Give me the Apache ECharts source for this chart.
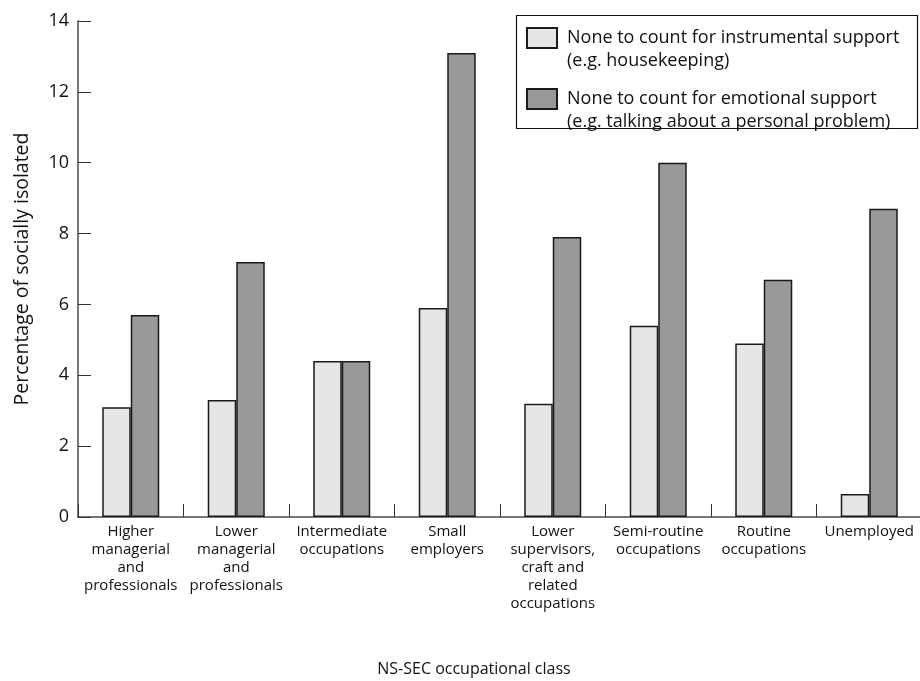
<!DOCTYPE html>
<html>
<head>
<meta charset="utf-8">
<script src="https://cdn.jsdelivr.net/npm/echarts@6/dist/echarts.min.js"></script>
<style>
html,body{margin:0;padding:0;background:#fff;}
#chart{width:920px;height:681px;}
</style>
</head>
<body>
<div id="chart"></div>
<script>
var categories = [
  'Higher\nmanagerial\nand\nprofessionals',
  'Lower\nmanagerial\nand\nprofessionals',
  'Intermediate\noccupations',
  'Small\nemployers',
  'Lower\nsupervisors,\ncraft and\nrelated\noccupations',
  'Semi-routine\noccupations',
  'Routine\noccupations',
  'Unemployed'
];
var seriesNames = [
  'None to count for instrumental support\n(e.g. housekeeping)',
  'None to count for emotional support\n(e.g. talking about a personal problem)'
];
var instrumental = [3.1, 3.3, 4.4, 5.9, 3.2, 5.4, 4.9, 0.65];
var emotional = [5.7, 7.2, 4.4, 13.1, 7.9, 10.0, 6.7, 8.7];
var yTicks = {min: 0, max: 14, interval: 2};
var yAxisTitle = 'Percentage of socially isolated';
var xAxisTitle = 'NS-SEC occupational class';

var FONT = 'Open Sans';
var chart = echarts.init(document.getElementById('chart'), null, {renderer: 'canvas'});
chart.setOption({
  animation: false,
  backgroundColor: '#fff',
  textStyle: {fontFamily: FONT},
  grid: {left: 78, top: 21, width: 844, height: 496, containLabel: false, outerBoundsMode: 'none'},
  legend: {
    orient: 'vertical',
    left: 526,
    top: 26.5,
    padding: 0,
    itemGap: 15,
    itemWidth: 30,
    itemHeight: 43,
    icon: 'path://M0,0 L30,0 L30,20 L0,20 Z M0,43 L0,43',
    data: seriesNames,
    textStyle: {fontFamily: FONT, fontSize: 18, color: '#111', lineHeight: 23, padding: [0, 0, 0, 5]}
  },
  graphic: [{
    type: 'rect',
    shape: {x: 516.5, y: 15.5, width: 401, height: 113},
    style: {fill: 'none', stroke: '#111', lineWidth: 1.2},
    silent: true,
    z: -1
  }],
  xAxis: {
    type: 'category',
    data: categories,
    name: xAxisTitle,
    nameLocation: 'middle',
    nameGap: 144,
    nameTextStyle: {fontFamily: FONT, fontSize: 16, color: '#111', padding: [0, 52, 0, 0]},
    axisLine: {show: true, lineStyle: {color: '#777', width: 2}},
    axisTick: {show: true, inside: true, length: 13, lineStyle: {color: '#333', width: 1}},
    axisLabel: {fontFamily: FONT, fontSize: 15, color: '#111', margin: 6, lineHeight: 18, interval: 0},
    splitLine: {show: false}
  },
  yAxis: {
    type: 'value',
    min: yTicks.min,
    max: yTicks.max,
    interval: yTicks.interval,
    name: yAxisTitle,
    nameLocation: 'middle',
    nameGap: 46,
    nameRotate: 90,
    nameTextStyle: {fontFamily: FONT, fontSize: 19.5, color: '#111'},
    axisLine: {show: true, lineStyle: {color: '#777', width: 2}},
    axisTick: {show: true, inside: true, length: 13, lineStyle: {color: '#333', width: 1}},
    axisLabel: {fontFamily: FONT, fontSize: 18, color: '#111', margin: 9},
    splitLine: {show: false}
  },
  series: [{
    name: seriesNames[0],
    type: 'bar',
    data: instrumental,
    barWidth: 28.5,
    barGap: '0%',
    itemStyle: {color: '#e6e6e6', borderColor: '#1a1a1a', borderWidth: 1.5}
  }, {
    name: seriesNames[1],
    type: 'bar',
    data: emotional,
    barWidth: 28.5,
    barGap: '0%',
    itemStyle: {color: '#999999', borderColor: '#1a1a1a', borderWidth: 1.5}
  }]
});
</script>
</body>
</html>
